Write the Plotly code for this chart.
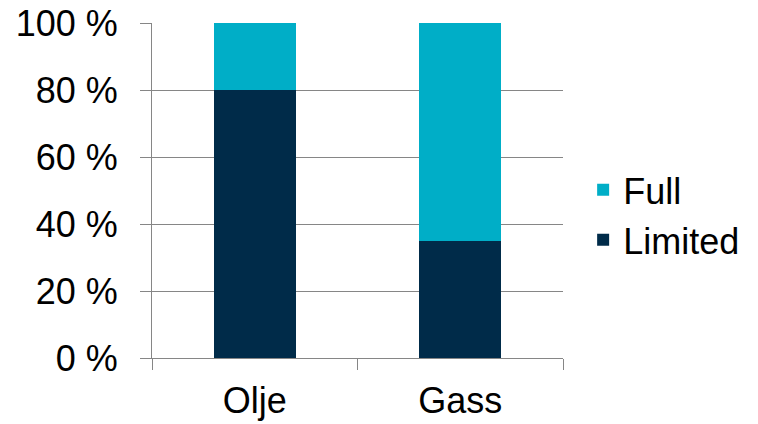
import plotly.graph_objects as go

categories = ["Olje", "Gass"]
limited = [80, 35]
full = [20, 65]
y_ticks = [0, 20, 40, 60, 80, 100]
y_tick_labels = ["0 %", "20 %", "40 %", "60 %", "80 %", "100 %"]

NAVY = "#002B49"
CYAN = "#00AEC7"
GRID = "#868686"
FONT = "Liberation Sans, Arial, sans-serif"

fig = go.Figure()
fig.add_trace(go.Bar(x=categories, y=limited, name="Limited", legendrank=2,
                     marker_color=NAVY, marker_line_width=0))
fig.add_trace(go.Bar(x=categories, y=full, name="Full", legendrank=1,
                     marker_color=CYAN, marker_line_width=0))

fig.update_layout(
    width=758, height=424,
    margin=dict(l=152, r=195, t=23, b=66, autoexpand=False),
    barmode="stack", bargap=0.6,
    plot_bgcolor="white", paper_bgcolor="white",
    font=dict(family=FONT, size=36, color="black"),
    showlegend=True,
    legend=dict(
        traceorder="normal", x=1.049, xanchor="left", y=0.427, yanchor="middle",
        font=dict(size=36), itemwidth=30, tracegroupgap=0,
        bgcolor="rgba(0,0,0,0)",
    ),
)
fig.update_yaxes(
    range=[0, 100], tickvals=y_ticks, ticktext=y_tick_labels,
    showgrid=True, gridcolor=GRID, gridwidth=1,
    showline=True, linecolor=GRID, linewidth=1,
    ticks="outside", ticklen=11, tickcolor=GRID,
    zeroline=False, ticklabelstandoff=15, automargin=False,
)
fig.update_xaxes(
    showline=True, linecolor=GRID, linewidth=1,
    ticks="outside", ticklen=11, tickcolor=GRID, tickson="boundaries",
    showgrid=False, automargin=False, ticklabelstandoff=11,
)
fig.write_html("out.html")
